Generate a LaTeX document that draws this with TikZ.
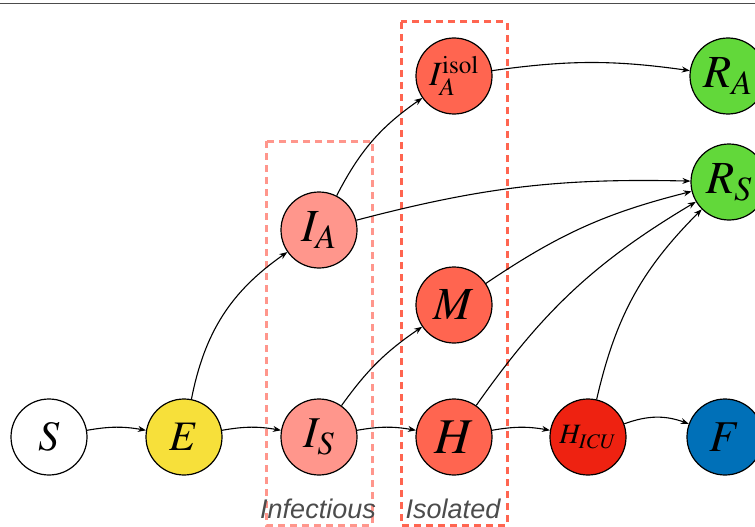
\documentclass[tikz,border=0pt]{standalone}
\usepackage{mathptmx}
\usepackage[no-math]{fontspec}
\setmainfont{Liberation Serif}
\setsansfont{Liberation Sans}
\usetikzlibrary{arrows.meta}
\definecolor{cyel}{HTML}{F7E03A}
\definecolor{cpink}{HTML}{FF968C}
\definecolor{ctom}{HTML}{FF6550}
\definecolor{cred}{HTML}{EE2211}
\definecolor{cblue}{HTML}{0070B8}
\definecolor{cgreen}{HTML}{62D83A}
\tikzset{
  st/.style={circle, draw=black, line width=1.2pt, minimum size=76pt, inner sep=0pt},
  conn/.style={line width=1.1pt, -{Stealth[length=8pt,width=6pt]}},
  infbox/.style={draw=cpink, line width=3pt, dash pattern=on 7pt off 5pt},
  isobox/.style={draw=ctom, line width=3pt, dash pattern=on 7pt off 5pt},
  lbl/.style={font=\sffamily\itshape\fontsize{27}{32}\selectfont, text=black!70}
}
\begin{document}
\begin{tikzpicture}[x=1pt,y=-1pt]
\useasboundingbox (0,0) rectangle (755,527);
\clip (0,0) rectangle (755,527);
\draw[black!70, line width=1.8pt] (0,3.5) -- (755,3.5);
% boxes
\draw[infbox] (266,141) rectangle (372,525);
\draw[isobox] (401,22) rectangle (507,525);
% nodes
\node[st, fill=white] (S) at (49,437) {\fontsize{42}{48}\selectfont$S$};
\node[st, fill=cyel] (E) at (184,437) {\fontsize{42}{48}\selectfont$E$};
\node[st, fill=cpink] (IS) at (319,437) {\fontsize{44}{48}\selectfont$I_S$};
\node[st, fill=ctom] (H) at (454,437) {\fontsize{50}{56}\selectfont$H$};
\node[st, fill=cred] (HICU) at (588,437) {\fontsize{28}{32}\selectfont$H_{ICU}$};
\node[st, fill=cblue] (F) at (725,437) {\fontsize{44}{48}\selectfont$F$};
\node[st, fill=cpink] (IA) at (319,230) {\fontsize{46}{50}\selectfont$I_A$};
\node[st, fill=ctom] (M) at (454,305) {\fontsize{46}{50}\selectfont$M$};
\node[st, fill=ctom] (IAi) at (454,76) {\fontsize{34}{40}\selectfont$I_A^{\mathrm{isol}}$};
\node[st, fill=cgreen] (RA) at (728,76) {\fontsize{46}{50}\selectfont$R_A$};
\node[st, fill=cgreen] (RS) at (729,182) {\fontsize{46}{50}\selectfont$R_S$};
% labels
\node[lbl] (linf) at (318,509) {Infectious};
\node[lbl] (liso) at (453,509) {Isolated};
% connectors
\draw[conn] (S) to[bend left=10] (E);
\draw[conn] (E) to[bend left=10] (IS);
\draw[conn] (E) to[bend left=22] (IA);
\draw[conn] (IS) to[bend left=10] (H);
\draw[conn] (IS) to[bend left=10] (M);
\draw[conn] (IA) to[bend left=14] (IAi);
\draw[conn] (IA) to[bend left=8] (RS);
\draw[conn] (IAi) to[bend left=8] (RA);
\draw[conn] (M) to[bend left=10] (RS);
\draw[conn] (H) to[bend left=12] (RS);
\draw[conn] (H) to[bend left=10] (HICU);
\draw[conn] (HICU) to[bend left=16] (RS);
\draw[conn] (HICU) to[bend left=20] (F);
\end{tikzpicture}
\end{document}
